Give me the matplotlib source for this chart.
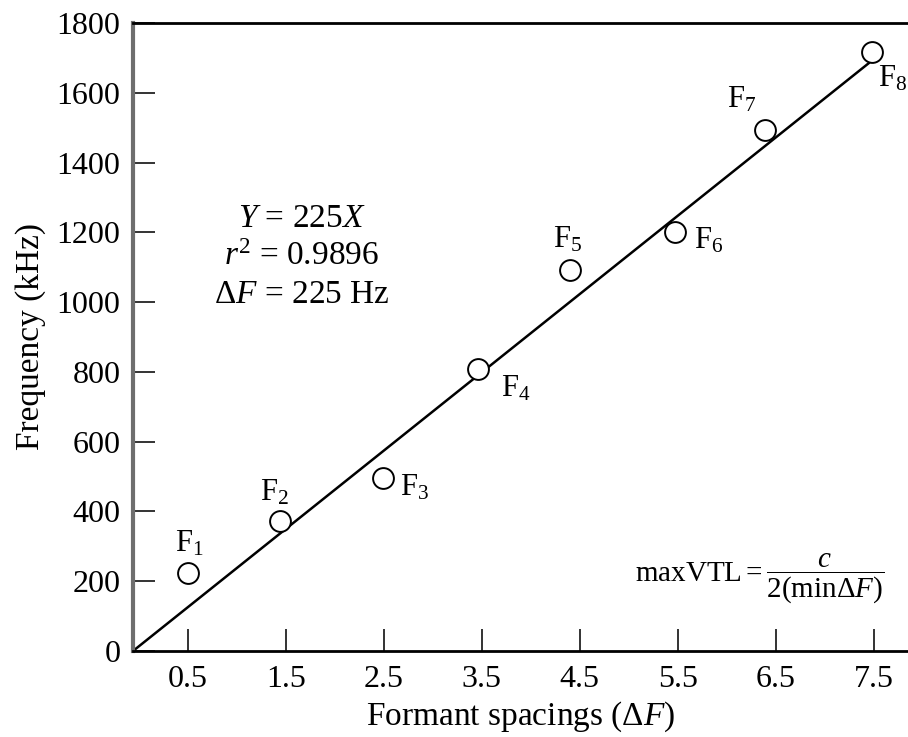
import matplotlib.pyplot as plt

# formant data
spacing = [0.5, 1.44, 2.49, 3.46, 4.40, 5.47, 6.39, 7.48]
freq = [224, 373, 496, 808, 1092, 1201, 1493, 1717]
names = ['1', '2', '3', '4', '5', '6', '7', '8']

# regression line end points
fit_x = [-0.061, 7.45]
fit_y = [0, 1685]

xticks = [0.5, 1.5, 2.5, 3.5, 4.5, 5.5, 6.5, 7.5]
yticks = [0, 200, 400, 600, 800, 1000, 1200, 1400, 1600, 1800]

plt.rcParams['font.family'] = 'Liberation Serif'
plt.rcParams['mathtext.fontset'] = 'custom'
plt.rcParams['mathtext.rm'] = 'Liberation Serif'
plt.rcParams['mathtext.it'] = 'Liberation Serif:italic'

fig = plt.figure(figsize=(9.08, 7.37), dpi=100)
ax = fig.add_axes([133/908, 86/737, 1 - 133/908, 628/737])

ax.plot(fit_x, fit_y, color='black', lw=1.8, zorder=2)
ax.plot(spacing, freq, 'o', ms=15, mfc='white', mec='black', mew=1.4, zorder=3)

# label offsets (points) for each formant
offs = [(1, 21), (-4, 20), (23, -7), (27, -14), (-2, 22), (24, -6), (-17, 22), (15, -19)]
for x, y, n, o in zip(spacing, freq, names, offs):
    ax.annotate('F$_{' + n + '}$', (x, y), xytext=o, textcoords='offset points',
                ha='center', va='center', fontsize=22)

ax.text(1.66, 1130, '$Y$ = 225$X$\n$r^2$ = 0.9896\n$\\Delta F$ = 225 Hz',
        ha='center', va='center', fontsize=24, linespacing=1.32)
ax.text(6.34, 209, r'maxVTL$=\dfrac{c}{2(\mathrm{min}\Delta F)}$',
        ha='center', va='center', fontsize=21)

ax.set_xlim(-0.061, 7.85)
ax.set_ylim(0, 1800)
ax.set_xticks(xticks)
ax.set_xticklabels([str(t) for t in xticks])
ax.set_yticks(yticks)
ax.tick_params(direction='in', length=16, width=1.4, labelsize=23, pad=10,
               color='#333333')
ax.tick_params(axis='y', pad=9)

ax.spines['right'].set_visible(False)
ax.spines['top'].set_linewidth(2)
ax.spines['bottom'].set_linewidth(2)
ax.spines['left'].set_linewidth(3)
ax.spines['left'].set_color('#6e6e6e')

ax.set_xlabel('Formant spacings ($\\Delta F$)', fontsize=24, labelpad=4)
ax.set_ylabel('Frequency (kHz)', fontsize=24, labelpad=8)

fig.savefig('out.png', dpi=100)
